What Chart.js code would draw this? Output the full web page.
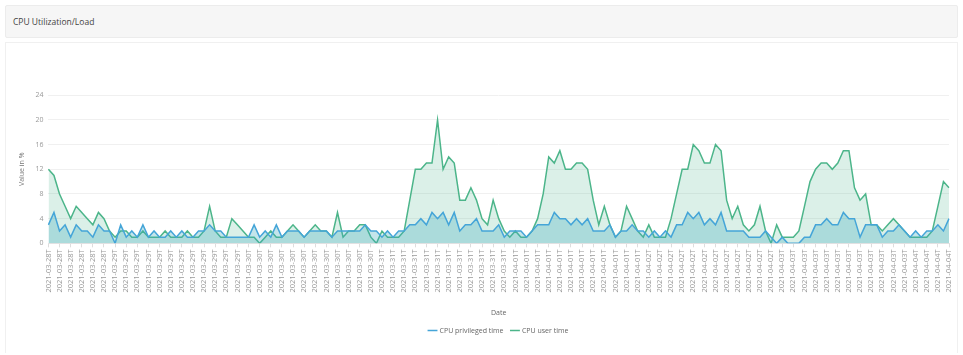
<!DOCTYPE html>
<html>
<head>
<meta charset="utf-8">
<script src="https://cdn.jsdelivr.net/npm/chart.js@4"></script>
<style>
  body { margin: 0; background: #fff; font-family: "Open Sans", sans-serif; }
  .head {
    position: absolute; left: 5px; top: 5px; width: 951px; height: 31px;
    background: #f6f6f6; border: 1px solid #ececec; border-radius: 2px;
  }
  .head span { position: absolute; left: 7px; top: 10px; font-size: 8.5px; color: #444; }
  .panel {
    position: absolute; left: 5px; top: 42px; width: 951px; height: 310px;
    border: 1px solid #f0f0f0; border-bottom: none;
  }
  .wrap { position: absolute; left: 10px; top: 86px; width: 950px; height: 258px; }
</style>
</head>
<body>
<div class="head"><span>CPU Utilization/Load</span></div>
<div class="panel"></div>
<div class="wrap"><canvas id="cpu-chart"></canvas></div>
<script>
// hourly samples, starting 2021-03-28 12:00
const startTime = Date.UTC(2021, 2, 28, 12);

const privilegedTime = [
  3, 5, 2, 3, 1, 3, 2, 2, 1, 3, 2, 2, 0, 3, 1, 2, 1, 3, 1, 2,
  1, 1, 2, 1, 2, 1, 1, 2, 2, 3, 2, 2, 1, 1, 1, 1, 1, 3, 1, 2,
  1, 3, 1, 2, 2, 2, 1, 2, 2, 2, 2, 1, 2, 2, 2, 2,
  2, 3, 2, 2, 1, 2, 1, 2, 2, 3, 3, 4, 3, 5, 4, 5, 3, 5, 2, 3,
  3, 4, 2, 2, 2, 3, 1, 2, 2, 2, 1, 2, 3, 3, 3, 5, 4, 4, 3, 4,
  3, 4, 2, 2, 2, 3, 1, 2, 2, 3, 2, 2, 1, 2, 1, 2, 1,
  3, 3, 5, 4, 5, 3, 4, 3, 5, 2, 2, 2, 2, 1, 1, 1, 2, 1, 0, 1,
  0, 0, 0, 1, 1, 3, 3, 4, 3, 3, 5, 4, 4, 1, 3, 3, 3, 1, 2, 2,
  3, 2, 1, 2, 1, 2, 2, 3, 2, 4,
];

const userTime = [
  12, 11, 8, 6, 4, 6, 5, 4, 3, 5, 4, 2, 1, 2, 2, 1, 1, 2, 1, 1,
  1, 2, 1, 1, 1, 2, 1, 1, 2, 6, 2, 1, 1, 4, 3, 2, 1, 1, 0, 1,
  2, 1, 1, 2, 3, 2, 1, 2, 3, 2, 2, 1, 5, 1, 2, 2,
  3, 3, 1, 0, 2, 1, 1, 1, 2, 7, 12, 12, 13, 13, 20, 12, 14, 13, 7, 7,
  9, 7, 4, 3, 7, 4, 2, 1, 2, 1, 1, 2, 4, 8, 14, 13, 15, 12, 12, 13,
  13, 12, 7, 3, 6, 3, 1, 2, 6, 4, 2, 1, 3, 1, 1, 1, 4,
  8, 12, 12, 16, 15, 13, 13, 16, 15, 7, 4, 6, 3, 2, 3, 6, 2, 0, 3, 1,
  1, 1, 2, 6, 10, 12, 13, 13, 12, 13, 15, 15, 9, 7, 8, 3, 3, 2, 3, 4,
  3, 2, 1, 1, 1, 1, 2, 6, 10, 9,
];

const labels = userTime.map((_, i) =>
  new Date(startTime + i * 3600000).toISOString().slice(0, 11),
);

Chart.defaults.font.family = "'Open Sans', sans-serif";
Chart.defaults.font.size = 7;
Chart.defaults.color = "#888";

new Chart(document.getElementById("cpu-chart"), {
  type: "line",
  data: {
    labels: labels,
    datasets: [
      {
        label: "CPU privileged time",
        data: privilegedTime,
        borderColor: "#45a5d8",
        backgroundColor: "rgba(60, 170, 190, 0.3)",
        borderWidth: 1.5,
        pointRadius: 0,
        fill: "origin",
      },
      {
        label: "CPU user time",
        data: userTime,
        borderColor: "#4cb58a",
        backgroundColor: "rgba(76, 181, 138, 0.2)",
        borderWidth: 1.5,
        pointRadius: 0,
        fill: "origin",
      },
    ],
  },
  options: {
    responsive: true,
    maintainAspectRatio: false,
    animation: false,
    layout: { padding: { left: 4, top: 4, right: 6, bottom: 0 } },
    scales: {
      x: {
        ticks: {
          minRotation: 90,
          maxRotation: 90,
          autoSkip: true,
          autoSkipPadding: 0,
          maxTicksLimit: 82,
          font: { size: 7.5 },
          color: "#999",
          padding: 2,
        },
        grid: { drawOnChartArea: false, tickLength: 4, color: "#ddd" },
        border: { color: "#e2e2e2" },
        title: {
          display: true,
          text: "Date",
          color: "#666",
          padding: { top: 14, bottom: 2 },
        },
      },
      y: {
        min: 0,
        max: 24,
        ticks: { stepSize: 4, padding: 5, color: "#999" },
        grid: { color: "#f0f0f0", drawTicks: false },
        border: { display: false },
        title: { display: true, text: "Value in %", color: "#777" },
      },
    },
    plugins: {
      legend: {
        position: "bottom",
        fullSize: false,
        labels: {
          usePointStyle: true,
          pointStyle: "line",
          boxWidth: 8,
          padding: 8,
          color: "#666",
        },
      },
      tooltip: { enabled: false },
    },
  },
});
</script>
</body>
</html>
